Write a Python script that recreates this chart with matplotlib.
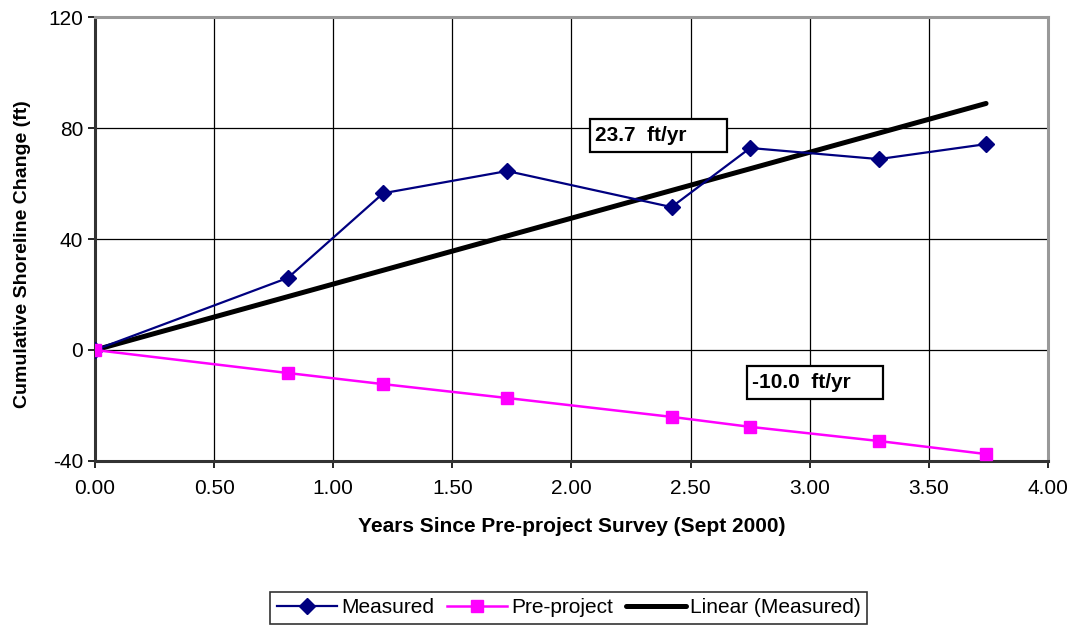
import numpy as np
import matplotlib
matplotlib.use("Agg")
import matplotlib.pyplot as plt
from matplotlib.patches import Rectangle
from matplotlib.ticker import FormatStrFormatter

plt.rcParams['font.family'] = ['Liberation Sans', 'DejaVu Sans']
plt.rcParams['axes.unicode_minus'] = False

### Data
years = [0.00, 0.81, 1.21, 1.73, 2.42, 2.75, 3.29, 3.74]
measured = [0.0, 26.0, 56.5, 64.5, 51.5, 72.8, 68.8, 74.2]
pre_project = [0.0, -8.3, -12.3, -17.3, -24.1, -27.7, -32.8, -37.5]
rate_labels = ["23.7  ft/yr", "-10.0  ft/yr"]

x = np.array(years)
y = np.array(measured)
# linear trend through the origin (least squares)
slope = np.sum(x * y) / np.sum(x * x)
trend = slope * x

fig = plt.figure(figsize=(10.73, 6.26), dpi=100)
ax = fig.add_axes([0.0885, 0.2636, 0.8882, 0.7092])

l1, = ax.plot(years, measured, color='#000080', lw=1.6, marker='D', ms=8,
              label='Measured', zorder=4)
l2, = ax.plot(years, pre_project, color='#FF00FF', lw=1.8, marker='s', ms=9,
              label='Pre-project', zorder=4)
l3, = ax.plot(x, trend, color='black', lw=3.6, label='Linear (Measured)',
              zorder=3, solid_capstyle='round')

ax.set_xlim(0, 4)
ax.set_ylim(-40, 120)
ax.set_xticks(np.arange(0, 4.01, 0.5))
ax.set_yticks([-40, 0, 40, 80, 120])
ax.xaxis.set_major_formatter(FormatStrFormatter('%.2f'))
ax.grid(True, color='black', lw=0.9)
ax.set_axisbelow(True)
ax.tick_params(labelsize=15, direction='out', length=5, width=1.2, colors='black')
ax.tick_params(axis='x', pad=8)

for side in ['left', 'bottom']:
    ax.spines[side].set_color('#333333')
    ax.spines[side].set_linewidth(2.2)
for side in ['top', 'right']:
    ax.spines[side].set_color('#999999')
    ax.spines[side].set_linewidth(2.2)

ax.set_xlabel('Years Since Pre-project Survey (Sept 2000)', fontsize=15,
              fontweight='bold', labelpad=14)
ax.set_ylabel('Cumulative Shoreline Change (ft)', fontsize=14,
              fontweight='bold')
ax.yaxis.set_label_coords(-0.067, 0.466)

# rate annotation boxes
boxes = [(2.078, 71.4, 0.575, 11.8), (2.737, -17.7, 0.570, 11.9)]
for (bx, by, bw, bh), txt in zip(boxes, rate_labels):
    ax.add_patch(Rectangle((bx, by), bw, bh, facecolor='white',
                           edgecolor='black', lw=1.6, zorder=6))
    ax.text(bx + 0.022, by + bh / 2, txt, fontsize=15, fontweight='bold',
            ha='left', va='center', zorder=7)

leg = fig.legend(handles=[l1, l2, l3], loc='center', ncol=3,
                 bbox_to_anchor=(0.53, 0.029), fontsize=15, frameon=True,
                 fancybox=False, edgecolor='black', handlelength=2.9,
                 handletextpad=0.2, columnspacing=0.6, borderpad=0.3)
leg.get_frame().set_linewidth(1.2)

fig.savefig('out.png', dpi=100)
